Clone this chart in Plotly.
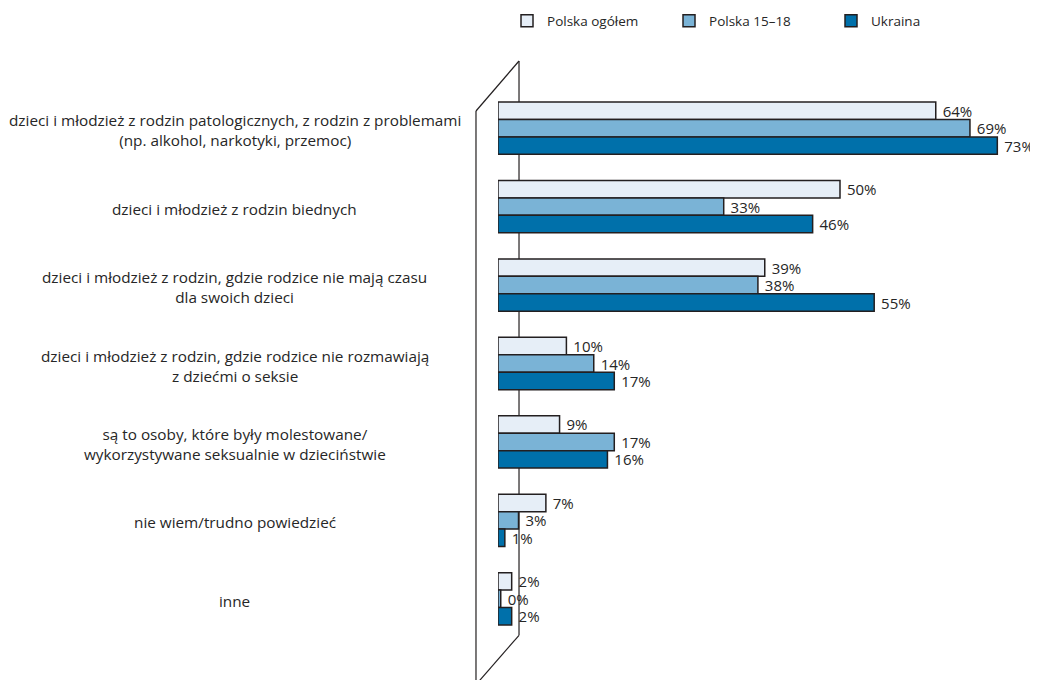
import plotly.graph_objects as go

categories = [
    "dzieci i młodzież z rodzin patologicznych, z rodzin z problemami<br>(np. alkohol, narkotyki, przemoc)",
    "dzieci i młodzież z rodzin biednych",
    "dzieci i młodzież z rodzin, gdzie rodzice nie mają czasu<br>dla swoich dzieci",
    "dzieci i młodzież z rodzin, gdzie rodzice nie rozmawiają<br>z dziećmi o seksie",
    "są to osoby, które były molestowane/<br>wykorzystywane seksualnie w dzieciństwie",
    "nie wiem/trudno powiedzieć",
    "inne",
]
series_names = ["Polska ogółem", "Polska 15–18", "Ukraina"]
polska_ogolem = [64, 50, 39, 10, 9, 7, 2]
polska_15_18 = [69, 33, 38, 14, 17, 3, 0.4]
ukraina = [73, 46, 55, 17, 16, 1, 2]

colors = ["#E6EEF7", "#7AB3D6", "#0070AA"]
FONT = "Open Sans"
TXT = "#262626"

# page offset (body margin) between figure and screen
OFF = 8
W, H = 1038, 680
ML, MT = 498 - OFF, 89 - OFF
MR = W - (1010.7 - OFF)
MB = H - (637.7 - OFF)
PW, PH = W - ML - MR, H - MT - MB


def px(x):
    return (x - OFF - ML) / PW


def py(y):
    return (H - MB - (y - OFF)) / PH


fig = go.Figure()
for name, vals, col in zip(series_names, [polska_ogolem, polska_15_18, ukraina], colors):
    fig.add_trace(go.Bar(
        y=categories, x=vals, name=name, orientation="h",
        marker=dict(color=col, line=dict(color="#231F20", width=1.5)),
        texttemplate="\u00a0%{x:.0f}%", textposition="outside", constraintext="none",
        textfont=dict(family=FONT, size=15, color=TXT),
        cliponaxis=False,
    ))

for cat in categories:
    fig.add_annotation(
        x=px(235), xref="paper", y=cat, yref="y", text=cat,
        showarrow=False, xanchor="center", yanchor="middle", align="center",
        yshift=-2,
        font=dict(family=FONT, size=15.3, color=TXT),
    )

line = dict(color="#231F20", width=1.2)
for (x0, y0, x1, y1) in [(519, 61, 519, 635), (476, 111, 519, 61),
                         (476, 111, 476, 690), (519, 635, 478, 682)]:
    fig.add_shape(type="line", xref="paper", yref="paper",
                  x0=px(x0), y0=py(y0), x1=px(x1), y1=py(y1),
                  line=line, layer="below")

fig.update_layout(
    width=W, height=H,
    margin=dict(l=ML, r=MR, t=MT, b=MB, autoexpand=False),
    paper_bgcolor="white", plot_bgcolor="white",
    barmode="group", bargap=0.333, bargroupgap=0,
    font=dict(family=FONT, size=14, color=TXT),
    xaxis=dict(range=[0, 75], visible=False),
    yaxis=dict(autorange="reversed", showticklabels=False, showgrid=False,
               zeroline=False, showline=False, ticks=""),
    legend=dict(orientation="h", x=px(507), y=py(21), xanchor="left", yanchor="middle",
                entrywidth=117, font=dict(family=FONT, size=13.5, color=TXT),
                traceorder="normal"),
    showlegend=True,
)

fig.write_html("out.html")
